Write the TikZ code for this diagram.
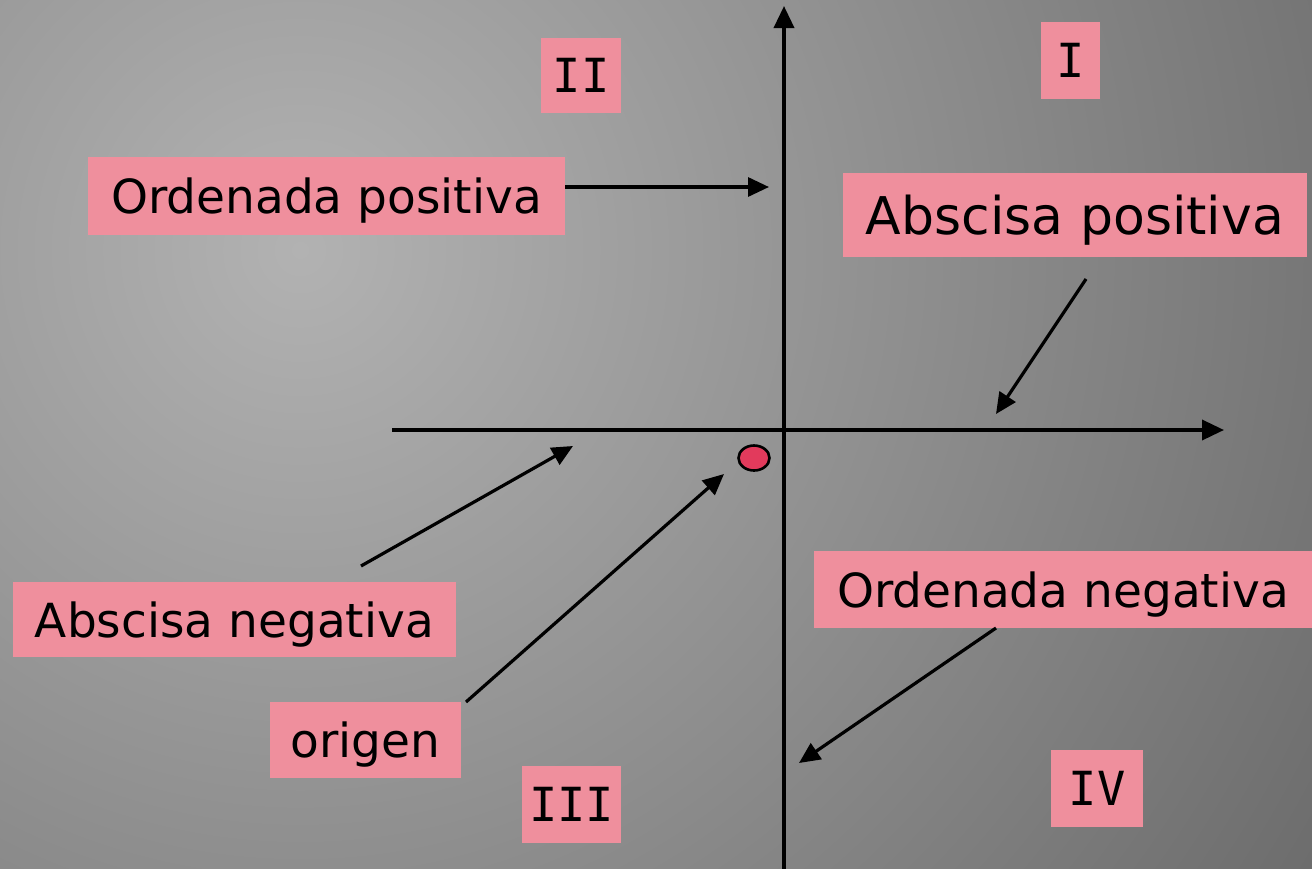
\documentclass[tikz,border=0pt]{standalone}
\usepackage{fontspec}
\setmainfont{DejaVu Sans}
\newfontfamily\romanfont{DejaVu Sans Mono}
\usetikzlibrary{arrows.meta,shapes.geometric}
\definecolor{boxpink}{RGB}{239,143,157}
\definecolor{dotred}{RGB}{226,58,92}
\definecolor{bginner}{RGB}{178,178,178}
\definecolor{bgouter}{RGB}{108,108,108}
\tikzset{
  lbl/.style={fill=boxpink, inner sep=0pt, anchor=center, text=black, text depth=0pt,
    font=\fontsize{47}{56}\selectfont},
  romanlbl/.style={lbl, font=\romanfont\fontsize{47}{56}\selectfont},
  arr/.style={line width=3.2pt, -{Triangle[length=21pt,width=19pt]}},
  axis/.style={line width=3.6pt, -{Triangle[length=22pt,width=20pt]}}
}
\begin{document}
\begin{tikzpicture}[x=1pt,y=-1pt]
\useasboundingbox (0,0) rectangle (1312,868);
\begin{scope}
\clip (0,0) rectangle (1312,868);
\shade[inner color=bginner, outer color=bgouter] (-900,-950) rectangle (1500,1450);
\end{scope}

% axes
\coordinate (xs) at (392,430);
\coordinate (xe) at (1224,430);
\coordinate (ys) at (784,870);
\coordinate (ye) at (784,6);
\draw[axis] (xs) -- (xe);
\draw[axis] (ys) -- (ye);

% labels
\node[romanlbl, minimum width=80pt, minimum height=75pt] (q2) at (581,75.5) {II};
\node[romanlbl, minimum width=59pt, minimum height=77pt] (q1) at (1070.5,60.5) {I};
\node[romanlbl, minimum width=99pt, minimum height=77pt] (q3) at (571.5,804.5) {III};
\node[romanlbl, minimum width=92pt, minimum height=77pt] (q4) at (1097,788.5) {IV};

\node[lbl, minimum width=477pt, minimum height=78pt] (op) at (326.5,196) {Ordenada positiva};
\node[lbl, minimum width=464pt, minimum height=84pt, font=\fontsize{52}{62}\selectfont] (ap) at (1075,215) {Abscisa positiva};
\node[lbl, minimum width=443pt, minimum height=75pt] (an) at (234.5,619.5) {Abscisa negativa};
\node[lbl, minimum width=191pt, minimum height=76pt] (or) at (365.5,740) {origen};
\node[lbl, minimum width=498pt, minimum height=77pt] (on) at (1063,589.5) {Ordenada negativa};

% origin dot
\node[draw=black, line width=2.6pt, fill=dotred, ellipse, minimum width=31pt, minimum height=25pt, inner sep=0pt] (dot) at (754,458) {};

% connectors
\coordinate (opS) at (565,187);
\coordinate (opT) at (769,187);
\draw[arr] (opS) -- (opT);

\coordinate (apS) at (1086,279);
\coordinate (apT) at (996,414);
\draw[arr] (apS) -- (apT);

\coordinate (anS) at (361,566);
\coordinate (anT) at (573,446);
\draw[arr] (anS) -- (anT);

\coordinate (orS) at (466,702);
\coordinate (orT) at (724,474);
\draw[arr] (orS) -- (orT);

\coordinate (onS) at (996,628);
\coordinate (onT) at (799,763);
\draw[arr] (onS) -- (onT);
\end{tikzpicture}
\end{document}
